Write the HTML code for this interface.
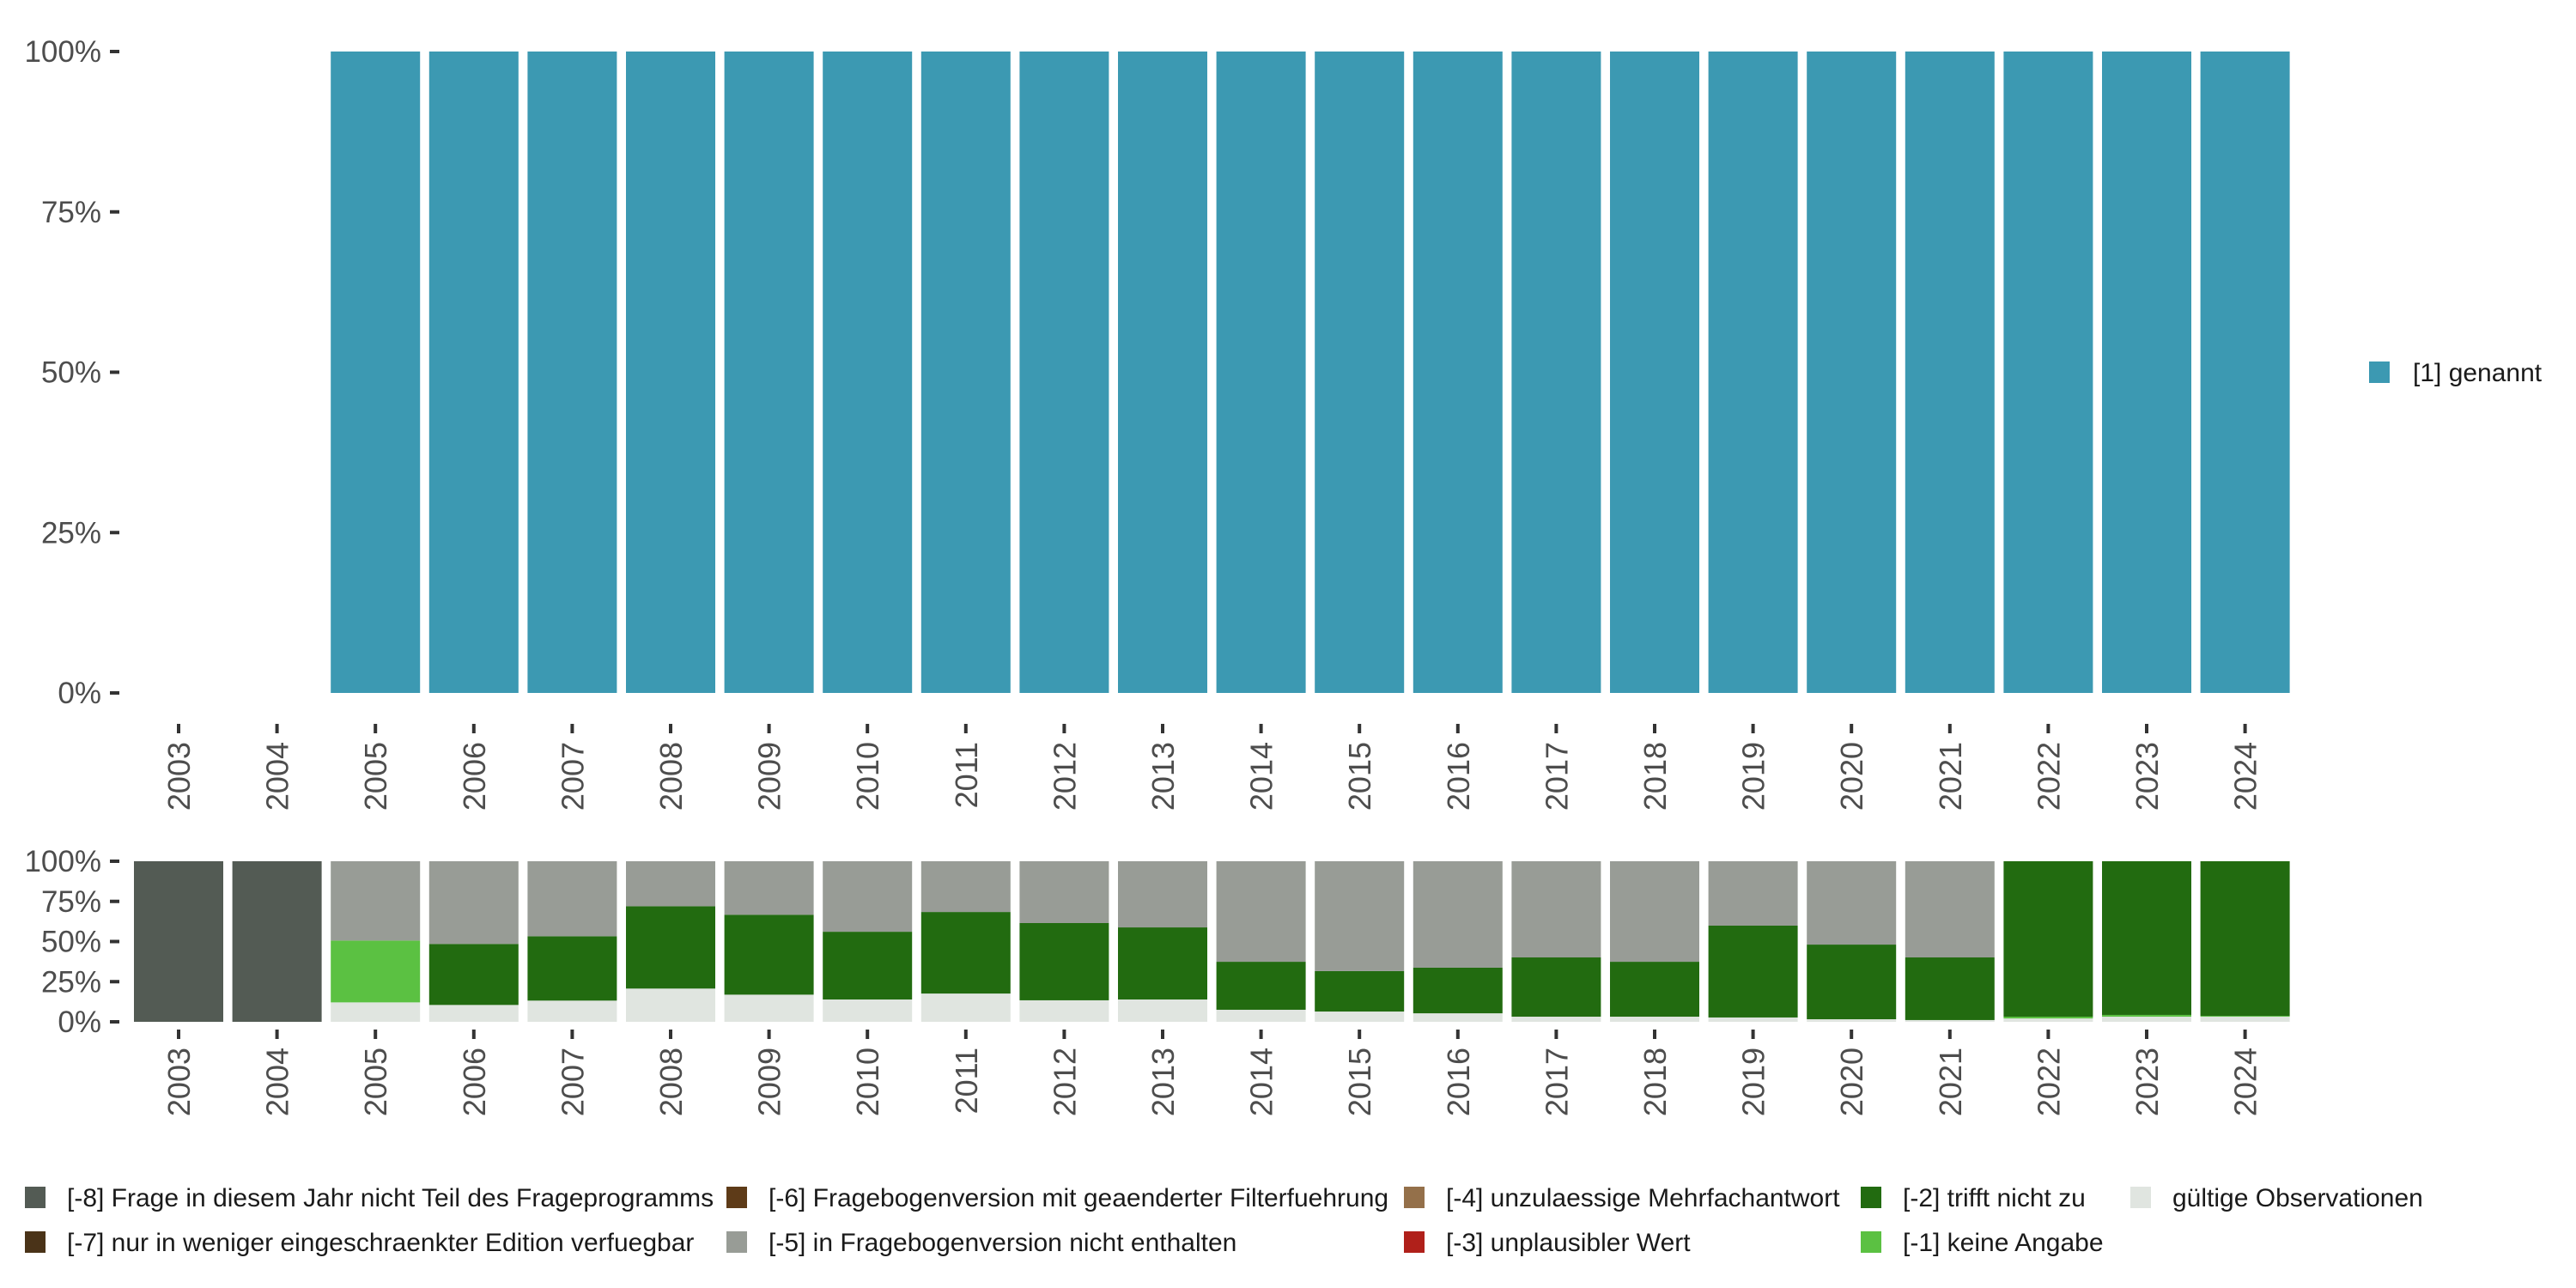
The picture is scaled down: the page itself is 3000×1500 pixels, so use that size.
<!DOCTYPE html>
<html><head><meta charset="utf-8">
<style>
html,body{margin:0;padding:0;background:#fff;}
svg{display:block;font-family:"Liberation Sans","DejaVu Sans",sans-serif;}
</style></head>
<body>
<svg id="chart" width="3000" height="1500" viewBox="0 0 3000 1500" xmlns="http://www.w3.org/2000/svg">
<g id="top"></g>
<g id="bottom"></g>
<g id="legend-top"></g>
<g id="legend-bottom"></g>
</svg>
<script>
const years = ["2003","2004","2005","2006","2007","2008","2009","2010","2011","2012","2013","2014","2015","2016","2017","2018","2019","2020","2021","2022","2023","2024"];
const genannt = [0,0,1,1,1,1,1,1,1,1,1,1,1,1,1,1,1,1,1,1,1,1];
const valid = [0,0,0.121,0.105,0.132,0.207,0.169,0.139,0.176,0.134,0.139,0.075,0.064,0.053,0.032,0.032,0.027,0.016,0.011,0.021,0.032,0.032];
const keineAngabe = [0,0,0.385,0,0,0,0,0,0,0,0,0,0,0,0,0,0,0,0,0.011,0.011,0.005];
const trifftNicht = [0,0,0,0.380,0.401,0.513,0.498,0.422,0.508,0.481,0.449,0.299,0.252,0.284,0.369,0.342,0.572,0.465,0.390,0.968,0.957,0.963];
const nichtEnthalten = [0,0,0.494,0.515,0.467,0.280,0.333,0.439,0.316,0.385,0.412,0.626,0.684,0.663,0.599,0.626,0.401,0.519,0.599,0,0,0];
const nichtTeil = [1,1,0,0,0,0,0,0,0,0,0,0,0,0,0,0,0,0,0,0,0,0];
const yTicks = [0,0.25,0.5,0.75,1];
const yTickLabels = ["0%","25%","50%","75%","100%"];

const NS="http://www.w3.org/2000/svg";
function mk(tag,attrs,parent){const e=document.createElementNS(NS,tag);for(const k in attrs)e.setAttribute(k,attrs[k]);parent.appendChild(e);return e;}
const x0=208, step=114.6, bw=104;
const xPos=i=>x0+step*i;

function axes(g, yTop, yBot, tickY, prefix){
  const ys=v=>yBot-(yBot-yTop)*v;
  yTicks.forEach((v,i)=>{
    const t=mk('text',{x:118,y:ys(v)+12,'text-anchor':'end','font-size':35,fill:'#4d4d4d'},g);
    t.textContent=yTickLabels[i];
    
    
    const l=mk('line',{x1:128,x2:139,y1:ys(v),y2:ys(v),stroke:'#333','stroke-width':4},g);
    
    
  });
  years.forEach((yr,i)=>{
    const l=mk('line',{x1:xPos(i),x2:xPos(i),y1:tickY,y2:tickY+11,stroke:'#333','stroke-width':4},g);
    
    
    const t=mk('text',{x:0,y:0,'text-anchor':'end','font-size':36,fill:'#4d4d4d',transform:`translate(${xPos(i)+13},${tickY+21}) rotate(-90)`},g);
    t.textContent=yr;
    
    
  });
  return ys;
}

// top panel
const gt=document.getElementById('top');
const ysT=axes(gt,60,807,843,'top');
genannt.forEach((v,i)=>{
  if(v<=0)return;
  const r=mk('rect',{x:xPos(i)-bw/2,y:ysT(v),width:bw,height:ysT(0)-ysT(v),fill:'#3c99b2'},gt);
  
  
});

// bottom panel
const gb=document.getElementById('bottom');
const ysB=axes(gb,1003,1190,1199,'bottom');
const stack=[[valid,'#e0e5e0','valid'],[keineAngabe,'#5bc142','keine-angabe'],[trifftNicht,'#226b10','trifft-nicht-zu'],[nichtEnthalten,'#989c96','nicht-enthalten'],[nichtTeil,'#535b54','nicht-teil']];
years.forEach((yr,i)=>{
  let cum=0;
  stack.forEach(([arr,col,nm])=>{
    const v=arr[i]; if(v<=0)return;
    const r=mk('rect',{x:xPos(i)-bw/2,y:ysB(cum+v),width:bw,height:ysB(cum)-ysB(cum+v),fill:col},gb);
    
    
    cum+=v;
  });
});

// legends
const lt=document.getElementById('legend-top');
const ls=mk('rect',{x:2759,y:421,width:24,height:25,fill:'#3c99b2'},lt);


const ltx=mk('text',{x:2810,y:444,'font-size':30,fill:'#1a1a1a'},lt);
ltx.textContent='[1] genannt';



const lb=document.getElementById('legend-bottom');
const legItems=[
  [29,1394,'#535b54','[-8] Frage in diesem Jahr nicht Teil des Frageprogramms'],
  [29,1446,'#4a3318','[-7] nur in weniger eingeschraenkter Edition verfuegbar'],
  [846,1394,'#5e3b18','[-6] Fragebogenversion mit geaenderter Filterfuehrung'],
  [846,1446,'#989c96','[-5] in Fragebogenversion nicht enthalten'],
  [1635,1394,'#94704a','[-4] unzulaessige Mehrfachantwort'],
  [1635,1446,'#b0201a','[-3] unplausibler Wert'],
  [2167,1394,'#226b10','[-2] trifft nicht zu'],
  [2167,1446,'#5bc142','[-1] keine Angabe'],
  [2481,1394,'#e0e5e0','gültige Observationen']
];
legItems.forEach(([x,y,c,t])=>{
  const r=mk('rect',{x:x,y:y-12,width:24,height:25,fill:c},lb);
  
  
  const tx=mk('text',{x:x+49,y:y+11,'font-size':30,fill:'#1a1a1a'},lb);
  tx.textContent=t;
  
  
});
</script>
</body></html>
